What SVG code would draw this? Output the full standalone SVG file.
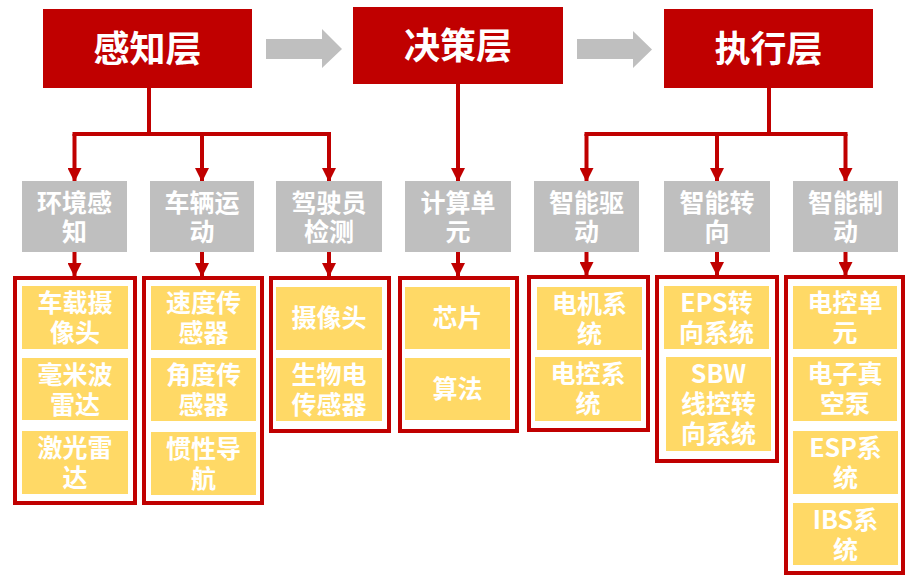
<svg xmlns="http://www.w3.org/2000/svg" width="906" height="577" viewBox="0 0 906 577">
<defs>
<style>
.hdr{fill:#C00000}
.hdrt{font-family:"Noto Sans CJK SC","Microsoft YaHei",sans-serif;font-weight:700;font-size:36px;fill:#fff;text-anchor:middle}
.cat{fill:#BFBFBF}
.t{font-family:"Noto Sans CJK SC","Microsoft YaHei",sans-serif;font-weight:700;font-size:25px;fill:#fff;text-anchor:middle}
.frame{fill:#fff;stroke:#C00000;stroke-width:4}
.item{fill:#FFD966}
.ln{fill:none;stroke:#C00000;stroke-width:4}
.arr{fill:none;stroke:#C00000;stroke-width:4;marker-end:url(#ah)}
.flow{fill:#BFBFBF}
</style>
<marker id="ah" viewBox="0 0 14 14" refX="13" refY="7" markerWidth="14" markerHeight="14" markerUnits="userSpaceOnUse" orient="auto">
<path d="M0,0 L14,7 L0,14 z" fill="#C00000"/>
</marker>
</defs>
<rect width="906" height="577" fill="#fff"/>

<g id="flow-arrows">
<polygon class="flow" points="266,39 322,39 322,29 342,49 322,68 322,59 266,59"/>
<polygon class="flow" points="577,39 633,39 633,31 652,49.5 633,68 633,59 577,59"/>
</g>

<g id="connectors">
<path class="ln" d="M149,88 V134 M72.5,134 H331"/>
<path class="arr" d="M74.5,134 V181"/>
<path class="arr" d="M202,134 V181"/>
<path class="arr" d="M329,134 V181"/>
<path class="arr" d="M458,84 V181"/>
<path class="ln" d="M769,88 V134 M584.5,134 H847.5"/>
<path class="arr" d="M586.5,134 V181"/>
<path class="arr" d="M717,134 V181"/>
<path class="arr" d="M845.5,134 V181"/>
<path class="arr" d="M74.5,252 V276"/>
<path class="arr" d="M202,252 V276"/>
<path class="arr" d="M329,252 V276"/>
<path class="arr" d="M458,252 V276"/>
<path class="arr" d="M586.5,252 V275"/>
<path class="arr" d="M717,252 V275"/>
<path class="arr" d="M845.5,252 V275"/>
</g>

<g id="perception">
<rect class="hdr" x="43" y="9" width="209" height="79"/>
<text class="hdrt" x="147.5" y="62">感知层</text>
</g>
<g id="decision">
<rect class="hdr" x="353" y="7" width="210" height="77"/>
<text class="hdrt" x="458" y="59">决策层</text>
</g>
<g id="execution">
<rect class="hdr" x="664" y="9" width="209" height="79"/>
<text class="hdrt" x="768.5" y="62">执行层</text>
</g>

<g id="env">
<rect class="cat" x="22" y="181" width="105" height="71"/>
<text class="t" x="74.5" y="212">环境感<tspan x="74.5" dy="29">知</tspan></text>
</g>
<g id="vehicle">
<rect class="cat" x="150" y="181" width="104" height="71"/>
<text class="t" x="202" y="212">车辆运<tspan x="202" dy="29">动</tspan></text>
</g>
<g id="driver">
<rect class="cat" x="276" y="181" width="106" height="71"/>
<text class="t" x="329" y="212">驾驶员<tspan x="329" dy="29">检测</tspan></text>
</g>
<g id="compute">
<rect class="cat" x="405" y="181" width="106" height="71"/>
<text class="t" x="458" y="212">计算单<tspan x="458" dy="29">元</tspan></text>
</g>
<g id="drive">
<rect class="cat" x="534" y="181" width="105" height="71"/>
<text class="t" x="586.5" y="212">智能驱<tspan x="586.5" dy="29">动</tspan></text>
</g>
<g id="steer">
<rect class="cat" x="664" y="181" width="106" height="71"/>
<text class="t" x="717" y="212">智能转<tspan x="717" dy="29">向</tspan></text>
</g>
<g id="brake">
<rect class="cat" x="793" y="181" width="105" height="71"/>
<text class="t" x="845.5" y="212">智能制<tspan x="845.5" dy="29">动</tspan></text>
</g>

<g id="env-items">
<rect class="frame" x="15" y="278" width="120" height="225"/>
<rect class="item" x="22" y="286" width="106" height="63"/>
<text class="t" x="75" y="312">车载摄<tspan x="75" dy="30">像头</tspan></text>
<rect class="item" x="22" y="358" width="106" height="62"/>
<text class="t" x="75" y="384">毫米波<tspan x="75" dy="30">雷达</tspan></text>
<rect class="item" x="22" y="431" width="106" height="63"/>
<text class="t" x="75" y="457">激光雷<tspan x="75" dy="30">达</tspan></text>
</g>
<g id="vehicle-items">
<rect class="frame" x="144" y="278" width="118" height="225"/>
<rect class="item" x="151" y="286" width="105" height="64"/>
<text class="t" x="203.5" y="312">速度传<tspan x="203.5" dy="30">感器</tspan></text>
<rect class="item" x="151" y="358" width="105" height="63"/>
<text class="t" x="203.5" y="384">角度传<tspan x="203.5" dy="30">感器</tspan></text>
<rect class="item" x="151" y="432" width="105" height="63"/>
<text class="t" x="203.5" y="458">惯性导<tspan x="203.5" dy="30">航</tspan></text>
</g>
<g id="driver-items">
<rect class="frame" x="271" y="278" width="118" height="153"/>
<rect class="item" x="276" y="287" width="106" height="63"/>
<text class="t" x="329" y="327">摄像头</text>
<rect class="item" x="276" y="358" width="106" height="63"/>
<text class="t" x="329" y="384">生物电<tspan x="329" dy="30">传感器</tspan></text>
</g>
<g id="compute-items">
<rect class="frame" x="400" y="278" width="117" height="153"/>
<rect class="item" x="405" y="287" width="105" height="62"/>
<text class="t" x="457.5" y="327">芯片</text>
<rect class="item" x="405" y="358" width="105" height="62"/>
<text class="t" x="457.5" y="398">算法</text>
</g>
<g id="drive-items">
<rect class="frame" x="529" y="277" width="119" height="153"/>
<rect class="item" x="537" y="287" width="105" height="63"/>
<text class="t" x="589.5" y="313">电机系<tspan x="589.5" dy="30">统</tspan></text>
<rect class="item" x="535" y="357" width="106" height="64"/>
<text class="t" x="588" y="383">电控系<tspan x="588" dy="30">统</tspan></text>
</g>
<g id="steer-items">
<rect class="frame" x="657" y="277" width="120" height="184"/>
<rect class="item" x="664" y="286" width="105" height="63"/>
<text class="t" x="716.5" y="312">EPS转<tspan x="716.5" dy="30">向系统</tspan></text>
<rect class="item" x="666" y="357" width="105" height="94"/>
<text class="t" x="718.5" y="383">SBW<tspan x="718.5" dy="30">线控转</tspan><tspan x="718.5" dy="30">向系统</tspan></text>
</g>
<g id="brake-items">
<rect class="frame" x="786" y="277" width="117" height="296"/>
<rect class="item" x="793" y="286" width="104" height="63"/>
<text class="t" x="845" y="312">电控单<tspan x="845" dy="30">元</tspan></text>
<rect class="item" x="793" y="357" width="104" height="64"/>
<text class="t" x="845" y="383">电子真<tspan x="845" dy="30">空泵</tspan></text>
<rect class="item" x="793" y="431" width="105" height="63"/>
<text class="t" x="845.5" y="457">ESP系<tspan x="845.5" dy="30">统</tspan></text>
<rect class="item" x="793" y="503" width="105" height="62"/>
<text class="t" x="845.5" y="529">IBS系<tspan x="845.5" dy="30">统</tspan></text>
</g>
</svg>
